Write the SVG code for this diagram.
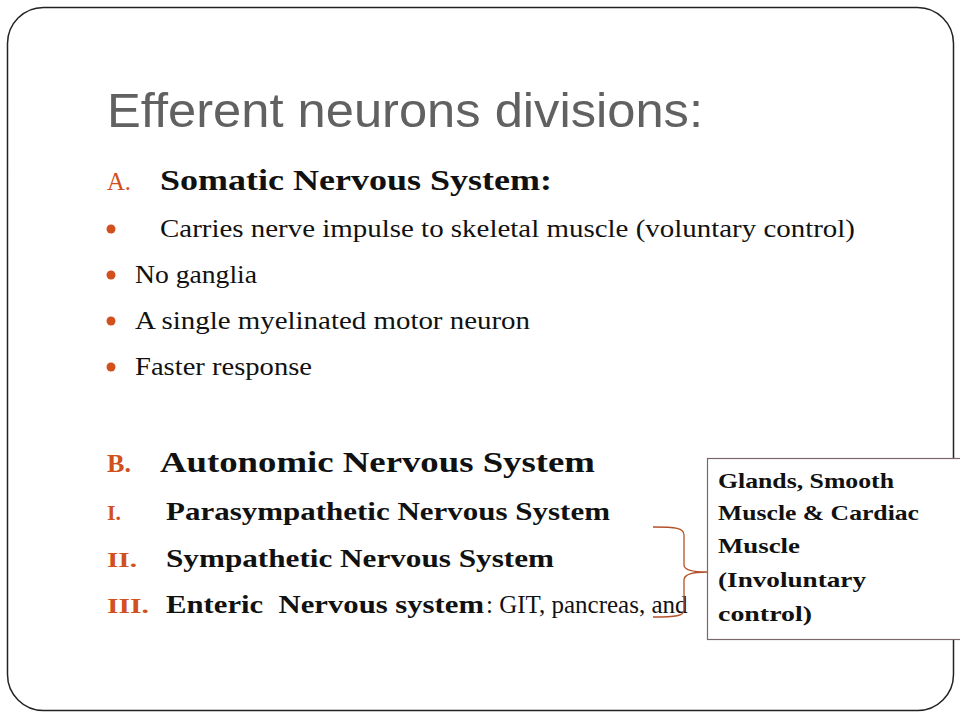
<svg xmlns="http://www.w3.org/2000/svg" width="960" height="720" viewBox="0 0 960 720">
<style>
.title{font-family:"Liberation Sans",Arial,sans-serif;font-size:49px;fill:#616161}
.body{font-family:"Liberation Serif","Times New Roman",serif;font-size:25px;fill:#111}
.head{font-family:"Liberation Serif","Times New Roman",serif;font-size:30px;font-weight:bold;fill:#111}
.sub{font-family:"Liberation Serif","Times New Roman",serif;font-size:26px;font-weight:bold;fill:#111}
.mark{font-family:"Liberation Serif","Times New Roman",serif;fill:#D2501E}
.bul{fill:#D2501E}
.box{font-family:"Liberation Serif","Times New Roman",serif;font-size:21px;font-weight:bold;fill:#111}
</style>
<rect x="0" y="0" width="960" height="720" fill="#ffffff"/>
<rect x="7.5" y="7.5" width="946" height="703" rx="36" ry="36" fill="none" stroke="#222" stroke-width="1.5"/>
<g id="title">
<text class="title" x="107" y="127" textLength="596" lengthAdjust="spacingAndGlyphs">Efferent neurons divisions:</text>
</g>
<g id="somatic">
<text class="mark" x="107" y="190" font-size="25" textLength="24" lengthAdjust="spacingAndGlyphs">A.</text>
<text class="head" x="160" y="190" textLength="392" lengthAdjust="spacingAndGlyphs">Somatic Nervous System:</text>
<circle class="bul" cx="111" cy="229" r="4.5"/>
<text class="body" x="160" y="237" textLength="695" lengthAdjust="spacingAndGlyphs">Carries nerve impulse to skeletal muscle (voluntary control)</text>
<circle class="bul" cx="111" cy="275" r="4.5"/>
<text class="body" x="135" y="283" textLength="122" lengthAdjust="spacingAndGlyphs">No ganglia</text>
<circle class="bul" cx="111" cy="321" r="4.5"/>
<text class="body" x="135" y="329" textLength="395" lengthAdjust="spacingAndGlyphs">A single myelinated motor neuron</text>
<circle class="bul" cx="111" cy="367" r="4.5"/>
<text class="body" x="135" y="375" textLength="177" lengthAdjust="spacingAndGlyphs">Faster response</text>
</g>
<g id="autonomic">
<text class="mark" x="107" y="472" font-size="25" font-weight="bold" textLength="24" lengthAdjust="spacingAndGlyphs">B.</text>
<text class="head" x="160" y="472" textLength="435" lengthAdjust="spacingAndGlyphs">Autonomic Nervous System</text>
<text class="mark" x="107" y="520" font-size="22" font-weight="bold" textLength="14" lengthAdjust="spacingAndGlyphs">I.</text>
<text class="sub" x="166" y="520" textLength="444" lengthAdjust="spacingAndGlyphs">Parasympathetic Nervous System</text>
<text class="mark" x="107" y="567" font-size="22" font-weight="bold" textLength="30" lengthAdjust="spacingAndGlyphs">II.</text>
<text class="sub" x="166" y="567" textLength="388" lengthAdjust="spacingAndGlyphs">Sympathetic Nervous System</text>
<text class="mark" x="107" y="613" font-size="22" font-weight="bold" textLength="42" lengthAdjust="spacingAndGlyphs">III.</text>
<text class="sub" x="166" y="613" textLength="318" lengthAdjust="spacingAndGlyphs" xml:space="preserve">Enteric  Nervous system</text>
<text class="body" x="486" y="613" font-size="24">: GIT, pancreas, and</text>
</g>
<g id="connectors">
<path d="M653,527 C676,527 684,528 684,535 L684,565 C684,570 694,572 707,572 C694,572 684,574 684,580 L684,610 C684,616 676,617 653,617" fill="none" stroke="#B5512A" stroke-width="1.3"/>
</g>
<g id="note">
<rect x="707.5" y="458.5" width="260" height="181" fill="#ffffff" stroke="#7a6868" stroke-width="1.2"/>
<text class="box" x="718" y="488" textLength="176" lengthAdjust="spacingAndGlyphs">Glands, Smooth</text>
<text class="box" x="718" y="520" textLength="201" lengthAdjust="spacingAndGlyphs">Muscle &amp; Cardiac</text>
<text class="box" x="718" y="553" textLength="82" lengthAdjust="spacingAndGlyphs">Muscle</text>
<text class="box" x="718" y="587" textLength="148" lengthAdjust="spacingAndGlyphs">(Involuntary</text>
<text class="box" x="718" y="621" textLength="94" lengthAdjust="spacingAndGlyphs">control)</text>
</g>
</svg>
